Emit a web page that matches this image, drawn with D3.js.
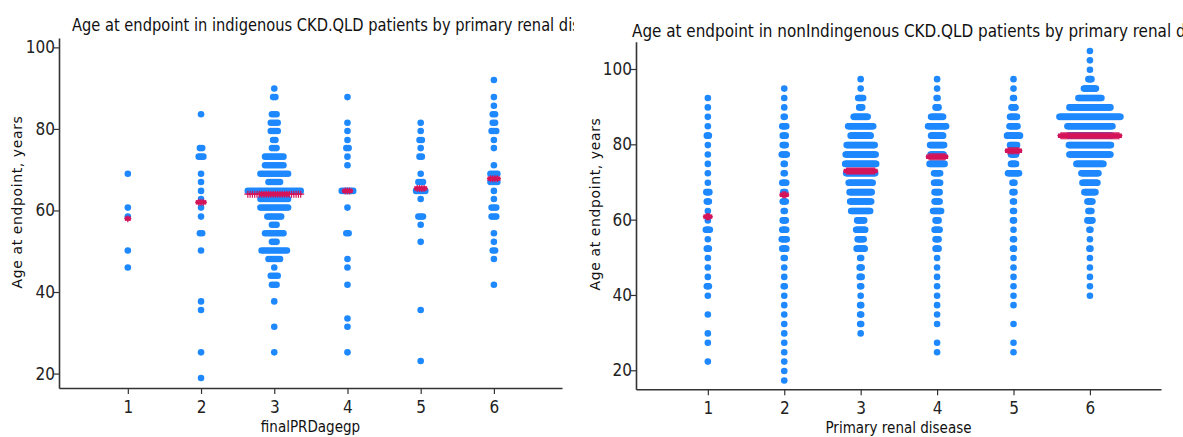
<!DOCTYPE html>
<html lang="en">
<head>
    <meta charset="UTF-8">
    <title>Age at endpoint by primary renal disease</title>
    <script src="https://d3js.org/d3.v7.min.js"></script>
    <style>
        body {
            margin: 0;
            background-color: white;
        }
        svg {
            display: block;
        }
        .tick text {
            font-family: "Liberation Sans Narrow", "DejaVu Sans Condensed", sans-serif;
            font-size: 17px;
            fill: #222;
        }
        .title, .xlab {
            font-family: "Liberation Sans Narrow", "DejaVu Sans Condensed", sans-serif;
            fill: #111;
        }
        .ylab {
            font-family: "DejaVu Sans", sans-serif;
            fill: #111;
        }
    </style>
</head>
<body>
<script>
    // Categories (primary renal disease group)
    const groups = [1, 2, 3, 4, 5, 6];
    const yTicks = [20, 40, 60, 80, 100];

    // Indigenous patients: [age, number of stacked points] per row
    const indig1 = [[69.0, 1], [60.7, 1], [58.5, 1], [50.2, 1], [46.0, 1]];
    const indig2 = [[83.6, 1], [75.3, 2], [73.2, 3], [69.0, 1], [67.0, 1], [64.8, 1], [62.8, 1], [60.7, 1],
        [58.5, 1], [54.4, 2], [50.2, 1], [37.7, 1], [35.6, 1], [25.2, 1], [18.9, 1]];
    const indig3 = [[89.9, 1], [87.8, 2], [83.6, 3], [81.5, 4], [79.5, 4], [77.3, 2], [75.3, 3], [73.2, 9],
        [71.1, 9], [69.0, 13], [67.0, 6], [64.8, 24], [62.8, 13], [60.7, 13], [58.5, 7], [56.5, 3],
        [54.4, 9], [52.3, 3], [50.2, 12], [48.1, 6], [46.0, 1], [44.0, 4], [41.8, 3], [37.7, 1],
        [31.5, 1], [25.2, 1]];
    const indig4 = [[87.8, 1], [81.5, 1], [79.5, 1], [77.3, 1], [75.3, 2], [73.2, 1], [71.1, 1], [64.8, 6],
        [60.7, 1], [54.4, 2], [48.1, 1], [46.0, 1], [41.8, 1], [33.5, 1], [31.5, 1], [25.2, 1]];
    const indig5 = [[81.5, 1], [79.5, 1], [77.3, 2], [75.3, 1], [73.2, 2], [69.0, 1], [67.0, 3], [64.8, 5],
        [62.8, 1], [58.5, 3], [56.5, 1], [52.3, 1], [35.6, 1], [23.1, 1]];
    const indig6 = [[92.0, 1], [87.8, 1], [85.7, 1], [83.6, 2], [81.5, 2], [79.5, 3], [77.3, 1], [75.3, 1],
        [71.1, 1], [69.0, 4], [67.0, 4], [64.8, 1], [62.8, 1], [60.7, 3], [58.5, 3], [54.4, 1],
        [52.3, 1], [50.2, 2], [48.1, 1], [41.8, 1]];
    // median age, width of median marker row, width of thick part
    const indigMedian = [58.0, 62.0, 64.0, 64.8, 65.4, 67.8];
    const indigMedN = [1, 3, 24, 3, 4, 4];
    const indigMedThick = [1, 3, 12, 3, 4, 4];

    // Non-indigenous patients
    const non1 = [[92.3, 1], [89.8, 1], [87.3, 1], [84.8, 1], [82.3, 3], [79.8, 1], [77.3, 1], [74.8, 1],
        [72.3, 1], [69.8, 1], [67.3, 4], [64.8, 3], [62.3, 1], [59.8, 1], [57.3, 5], [54.8, 1],
        [52.3, 3], [49.8, 1], [47.3, 1], [44.8, 1], [42.3, 3], [39.8, 1], [34.8, 1], [29.8, 1],
        [27.3, 1], [22.3, 1]];
    const non2 = [[94.8, 1], [92.3, 1], [89.8, 1], [87.3, 2], [84.8, 5], [82.3, 4], [79.8, 4], [77.3, 6],
        [74.8, 2], [72.3, 2], [69.8, 5], [67.3, 3], [64.8, 4], [62.3, 2], [59.8, 4], [57.3, 5],
        [54.8, 6], [52.3, 5], [49.8, 2], [47.3, 1], [44.8, 1], [42.3, 2], [39.8, 1], [37.3, 1],
        [34.8, 1], [32.3, 1], [29.8, 1], [27.3, 1], [24.8, 1], [22.3, 1], [19.8, 1], [17.3, 1]];
    const non3 = [[97.3, 1], [94.8, 1], [92.3, 6], [89.8, 4], [87.3, 15], [84.8, 26], [82.3, 21], [79.8, 29],
        [77.3, 31], [74.8, 32], [72.3, 30], [69.8, 25], [67.3, 23], [64.8, 22], [62.3, 20], [59.8, 8],
        [57.3, 10], [54.8, 7], [52.3, 9], [49.8, 2], [47.3, 3], [44.8, 3], [42.3, 2], [39.8, 1],
        [37.3, 2], [34.8, 2], [32.3, 2], [29.8, 1]];
    const non4 = [[97.3, 1], [94.8, 1], [92.3, 2], [89.8, 4], [87.3, 13], [84.8, 19], [82.3, 13], [79.8, 15],
        [77.3, 14], [74.8, 16], [72.3, 7], [69.8, 7], [67.3, 6], [64.8, 6], [62.3, 9], [59.8, 4],
        [57.3, 6], [54.8, 4], [52.3, 4], [49.8, 1], [47.3, 1], [44.8, 1], [42.3, 1], [39.8, 1],
        [37.3, 1], [34.8, 1], [32.3, 1], [27.3, 1], [24.8, 1]];
    const non5 = [[97.3, 1], [94.8, 1], [92.3, 2], [89.8, 5], [87.3, 8], [84.8, 9], [82.3, 14], [79.8, 8],
        [77.3, 6], [74.8, 6], [72.3, 12], [69.8, 3], [67.3, 3], [64.8, 2], [62.3, 2], [59.8, 2],
        [57.3, 1], [54.8, 2], [52.3, 2], [49.8, 1], [47.3, 1], [44.8, 1], [42.3, 1], [39.8, 1],
        [37.3, 1], [32.3, 1], [27.3, 1], [24.8, 1]];
    const non6 = [[104.8, 1], [102.3, 1], [99.8, 1], [97.3, 4], [94.8, 13], [92.3, 24], [89.8, 42], [87.3, 62],
        [84.8, 46], [82.3, 43], [79.8, 43], [77.3, 42], [74.8, 28], [72.3, 18], [69.8, 16], [67.3, 12],
        [64.8, 6], [62.3, 4], [59.8, 6], [57.3, 2], [54.8, 1], [52.3, 2], [49.8, 1], [47.3, 1],
        [44.8, 1], [42.3, 1], [39.8, 1]];
    const nonMedian = [60.8, 66.6, 72.9, 76.7, 78.3, 82.3];
    const nonMedN = [4, 4, 29, 17, 12, 59];
    const nonMedThick = [4, 4, 29, 17, 12, 59];

    const W = 1183, H = 437;
    const blue = "#1e88ff";
    const red = "#d4145a";
    const r = 3.3;

    const svg = d3.select("body").append("svg")
        .attr("width", W)
        .attr("height", H);

    svg.append("defs").append("clipPath").attr("id", "clipL")
        .append("rect").attr("x", 0).attr("y", 0).attr("width", 574).attr("height", H);

    const panels = [
        {
            rows: [indig1, indig2, indig3, indig4, indig5, indig6],
            med: indigMedian, medN: indigMedN, medThick: indigMedThick,
            left: 59, right: 562, top: 38, bottom: 388, yDomain: [16.46, 102.3], step: 2.3,
            title: "Age at endpoint in indigenous CKD.QLD patients by primary renal disease",
            titleX: 72, titleY: 31, titleScale: 0.905, clip: "url(#clipL)",
            xlab: "finalPRDagegp", ylabX: 22, ylabY: 202
        },
        {
            rows: [non1, non2, non3, non4, non5, non6],
            med: nonMedian, medN: nonMedN, medThick: nonMedThick,
            left: 636, right: 1161, top: 41.7, bottom: 389.3, yDomain: [14.95, 107.25], step: 1,
            title: "Age at endpoint in nonIndingenous CKD.QLD patients by primary renal disease",
            titleX: 632, titleY: 37, titleScale: 0.94, clip: null,
            xlab: "Primary renal disease", ylabX: 600, ylabY: 204
        }
    ];

    panels.forEach(p => {
        const x = d3.scaleLinear().domain([0.06, 6.93]).range([p.left, p.right]);
        const y = d3.scaleLinear().domain(p.yDomain).range([p.bottom, p.top]);
        const g = svg.append("g");

        // axes
        const xAxis = g.append("g")
            .attr("transform", `translate(0,${p.bottom})`)
            .call(d3.axisBottom(x).tickValues(groups).tickFormat(d3.format("d")).tickSize(6).tickSizeOuter(0));
        const yAxis = g.append("g")
            .attr("transform", `translate(${p.left},0)`)
            .call(d3.axisLeft(y).tickValues(yTicks).tickSize(5).tickSizeOuter(0));
        [xAxis, yAxis].forEach(a => {
            a.select(".domain").attr("stroke", "#333").attr("stroke-width", 1.6);
            a.selectAll(".tick line").attr("stroke", "#333").attr("stroke-width", 1.2);
        });
        xAxis.selectAll(".tick text").attr("dy", "0.95em");
        yAxis.selectAll(".tick text").attr("x", -4);

        // points
        const pts = [];
        p.rows.forEach((rows, gi) => {
            rows.forEach(([age, n]) => {
                for (let i = 0; i < n; i++) {
                    pts.push({ g: groups[gi], age: age, off: (i - (n - 1) / 2) * p.step });
                }
            });
        });
        g.selectAll(".dot")
            .data(pts)
            .enter()
            .append("circle")
            .attr("class", "dot")
            .attr("cx", d => x(d.g) + d.off)
            .attr("cy", d => y(d.age))
            .attr("r", r)
            .attr("fill", blue);

        // median markers
        groups.forEach((grp, gi) => {
            const cy = y(p.med[gi]);
            const half = (p.medThick[gi] - 1) / 2 * p.step + 3;
            g.append("line")
                .attr("x1", x(grp) - half).attr("x2", x(grp) + half)
                .attr("y1", cy).attr("y2", cy)
                .attr("stroke", red).attr("stroke-width", 4.5);
            const n = p.medN[gi];
            for (let i = 0; i < n; i++) {
                const cx = x(grp) + (i - (n - 1) / 2) * p.step;
                g.append("path")
                    .attr("d", `M${cx - 3.5},${cy}H${cx + 3.5}M${cx},${cy - 3.5}V${cy + 3.5}`)
                    .attr("stroke", red).attr("stroke-width", 1.2).attr("fill", "none");
            }
        });

        // titles (narrow, tall lettering)
        svg.append("g")
            .attr("clip-path", p.clip)
            .append("text")
            .attr("class", "title")
            .attr("transform", `translate(${p.titleX},${p.titleY}) scale(${p.titleScale},1)`)
            .style("font-size", "18px")
            .text(p.title);
        svg.append("text")
            .attr("class", "xlab")
            .attr("x", (p.left + p.right) / 2).attr("y", p.bottom + 44)
            .attr("text-anchor", "middle")
            .style("font-size", "15px")
            .text(p.xlab);
        svg.append("text")
            .attr("class", "ylab")
            .attr("transform", `translate(${p.ylabX},${p.ylabY}) rotate(-90)`)
            .attr("text-anchor", "middle")
            .style("font-size", "14px")
            .style("letter-spacing", "0.6px")
            .text("Age at endpoint, years");
    });
</script>
</body>
</html>
